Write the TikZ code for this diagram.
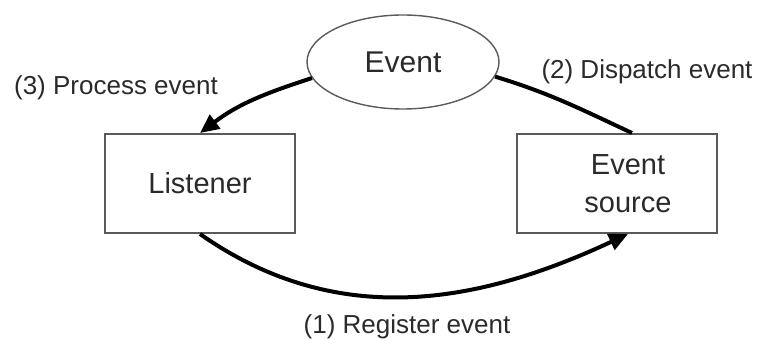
\documentclass[tikz,border=0pt]{standalone}
\usepackage{fontspec}
\setmainfont{Liberation Sans}
\usetikzlibrary{arrows.meta,calc,shapes.geometric}

\definecolor{boxline}{HTML}{5A5A5A}
\definecolor{inktext}{HTML}{2A2A2A}

\tikzset{
  box/.style={draw=boxline, line width=2pt, rectangle, inner sep=0pt,
              text=inktext, font=\fontsize{29}{38}\selectfont, align=center},
  bubble/.style={draw=boxline, line width=1.4pt, ellipse, inner sep=0pt,
                 text=inktext, font=\fontsize{30}{36}\selectfont},
  caption/.style={text=inktext, font=\fontsize{26}{31}\selectfont, inner sep=0pt},
  flow/.style={line width=4pt, draw=black},
  flowtip/.style={flow, -{Triangle[length=19pt,width=17pt]}}
}

\begin{document}
\begin{tikzpicture}[x=1pt,y=1pt]
  \useasboundingbox (0,0) rectangle (761,340);

  % participants
  \node[box, minimum width=190pt, minimum height=99pt] (lis) at (200,156.5) {Listener};
  \node[box, minimum width=200pt, minimum height=99pt] (src) at (617,156.5) {};
  \node[text=inktext, font=\fontsize{29}{38}\selectfont, align=center] (srctext)
       at ($(src.center)+(11,0)$) {Event\\source};
  \node[bubble, minimum width=192pt, minimum height=94pt] (ev) at (403,278) {Event};

  % step labels
  \node[caption] (l3) at (116,252) {(3) Process event};
  \node[caption] (l2) at (647,268) {(2) Dispatch event};
  \node[caption] (l1) at (407,13) {(1) Register event};

  % (1) listener registers with the source
  \draw[flowtip] (lis.south) to[out=-35, in=205] ($(src.south)+(11,0)$);
  % (2) source dispatches the event
  \draw[flow] ($(src.north)+(15,0)$) to[out=155, in=-17] (ev.-9);
  % (3) event reaches the listener
  \draw[flowtip] (ev.190) to[out=198, in=37] (lis.north);
\end{tikzpicture}
\end{document}
